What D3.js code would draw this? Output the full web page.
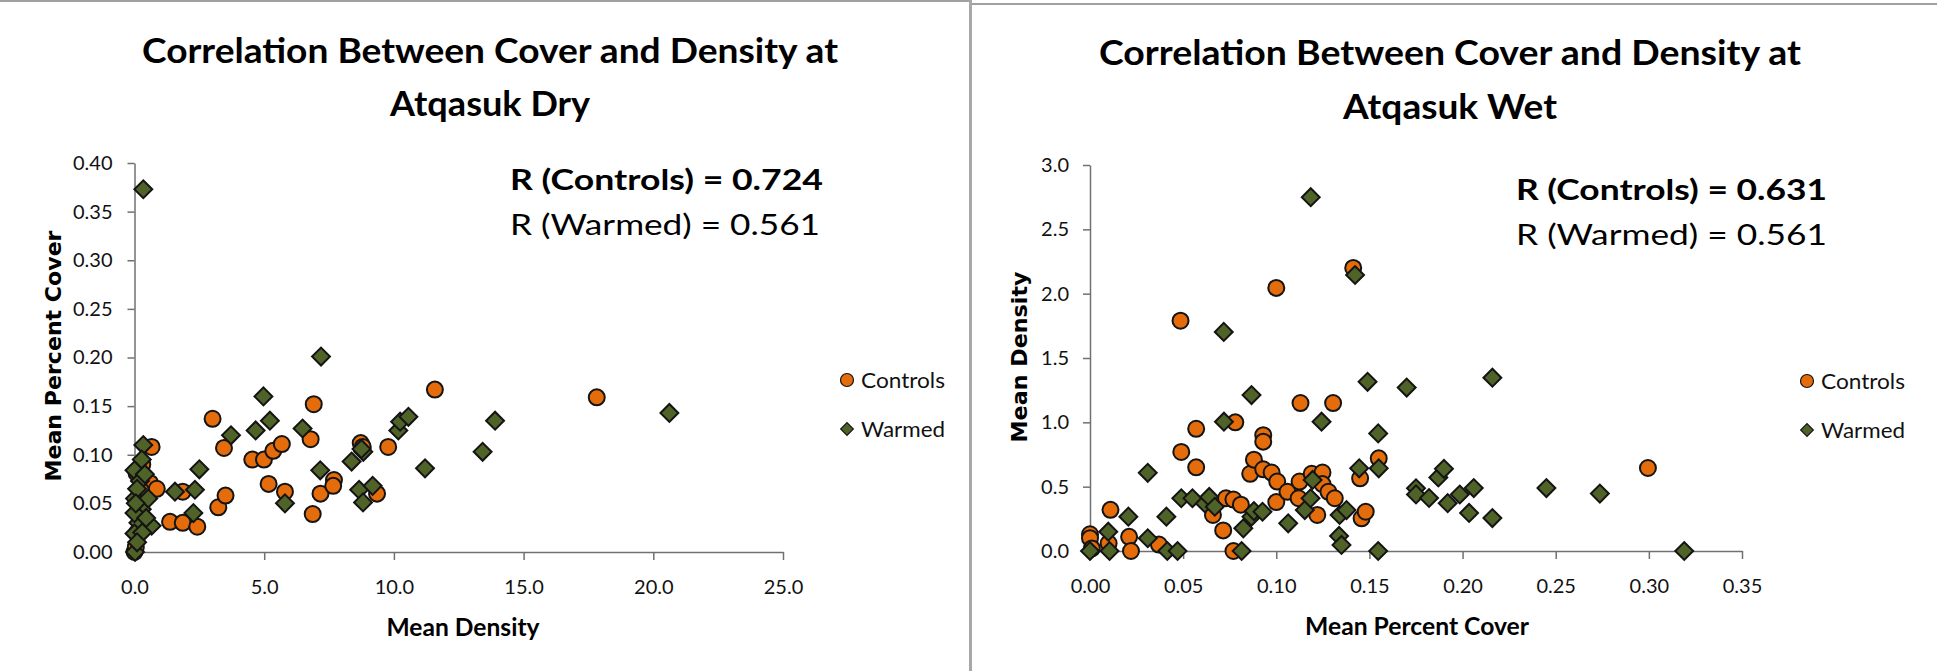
<!DOCTYPE html>
<html>
<head>
<meta charset="utf-8">
<script src="https://cdnjs.cloudflare.com/ajax/libs/d3/7.8.5/d3.min.js"></script>
<style>
	body { margin: 0; background: #fff; }
	svg { display: block; }
	.tick text { font-family: Lato, 'Open Sans', sans-serif; font-size: 20px; fill: #111; }
</style>
</head>
<body>
<svg id="chart" width="1937" height="671"></svg>
<script>
// Atqasuk Dry : x = mean density, y = mean percent cover
var dryControls = [
	[ 0.0, 0.0 ], [ 0.05, 0.005 ], [ 0.1, 0.02 ], [ 0.08, 0.081 ], [ 0.2, 0.05 ], [ 0.3, 0.09 ],
	[ 0.66, 0.108 ], [ 0.6, 0.071 ], [ 0.86, 0.065 ], [ 0.25, 0.063 ], [ 1.37, 0.031 ], [ 1.86, 0.030 ],
	[ 1.86, 0.062 ], [ 2.42, 0.026 ], [ 3.01, 0.137 ], [ 3.45, 0.107 ], [ 3.23, 0.046 ], [ 3.51, 0.058 ],
	[ 4.54, 0.095 ], [ 4.99, 0.095 ], [ 5.35, 0.104 ], [ 5.68, 0.111 ], [ 5.17, 0.070 ], [ 5.80, 0.062 ],
	[ 6.91, 0.152 ], [ 6.79, 0.116 ], [ 6.87, 0.039 ], [ 7.17, 0.060 ], [ 7.69, 0.074 ], [ 7.66, 0.068 ],
	[ 8.72, 0.112 ], [ 8.80, 0.108 ], [ 9.35, 0.060 ], [ 9.78, 0.108 ], [ 11.58, 0.167 ], [ 17.82, 0.159 ]
];
var dryWarmed = [
	[ 0.34, 0.373 ], [ 7.19, 0.201 ], [ 4.97, 0.160 ], [ 5.22, 0.135 ], [ 4.67, 0.125 ], [ 3.72, 0.120 ],
	[ 6.48, 0.127 ], [ 2.50, 0.085 ], [ 1.56, 0.062 ], [ 2.33, 0.064 ], [ 2.27, 0.040 ], [ 5.80, 0.050 ],
	[ 7.16, 0.084 ], [ 8.37, 0.093 ], [ 8.82, 0.103 ], [ 8.75, 0.106 ], [ 8.66, 0.064 ], [ 8.81, 0.051 ],
	[ 9.18, 0.068 ], [ 10.17, 0.125 ], [ 10.24, 0.134 ], [ 10.56, 0.139 ], [ 11.2, 0.086 ], [ 13.42, 0.103 ],
	[ 13.9, 0.135 ], [ 20.62, 0.143 ],
	[ 0.34, 0.110 ], [ 0.28, 0.095 ], [ 0.0, 0.084 ], [ 0.21, 0.073 ], [ 0.02, 0.055 ], [ 0.28, 0.044 ],
	[ 0.53, 0.055 ], [ 0.15, 0.030 ], [ 0.66, 0.027 ], [ 0.0, 0.019 ], [ 0.02, 0.0 ], [ 0.0, 0.04 ],
	[ 0.1, 0.065 ], [ 0.4, 0.08 ], [ 0.3, 0.02 ], [ 0.1, 0.01 ], [ 0.45, 0.035 ], [ 0.05, 0.05 ]
];

// Atqasuk Wet : x = mean percent cover, y = mean density
var wetControls = [
	[ 0.0, 0.13 ], [ 0.0, 0.10 ], [ 0.001, 0.02 ], [ 0.010, 0.06 ], [ 0.011, 0.32 ], [ 0.021, 0.11 ],
	[ 0.022, 0.0 ], [ 0.037, 0.05 ], [ 0.049, 0.77 ], [ 0.0486, 1.79 ], [ 0.057, 0.95 ], [ 0.057, 0.65 ],
	[ 0.066, 0.28 ], [ 0.0715, 0.16 ], [ 0.073, 0.41 ], [ 0.077, 0.40 ], [ 0.077, 0.0 ], [ 0.078, 1.00 ],
	[ 0.081, 0.36 ], [ 0.086, 0.60 ], [ 0.088, 0.71 ], [ 0.093, 0.90 ], [ 0.093, 0.85 ], [ 0.093, 0.635 ],
	[ 0.0975, 0.61 ], [ 0.100, 2.045 ], [ 0.1005, 0.54 ], [ 0.100, 0.38 ], [ 0.106, 0.46 ], [ 0.1125, 0.54 ],
	[ 0.112, 0.41 ], [ 0.113, 1.15 ], [ 0.119, 0.60 ], [ 0.1248, 0.61 ], [ 0.1248, 0.52 ], [ 0.122, 0.28 ],
	[ 0.128, 0.46 ], [ 0.1314, 0.41 ], [ 0.1305, 1.15 ], [ 0.1413, 2.20 ], [ 0.145, 0.565 ], [ 0.1458, 0.254 ],
	[ 0.148, 0.305 ], [ 0.155, 0.72 ], [ 0.2995, 0.645 ]
];
var wetWarmed = [
	[ 0, 0 ], [ 0.0105, 0 ], [ 0.0098, 0.15 ], [ 0.0206, 0.267 ], [ 0.031, 0.099 ], [ 0.031, 0.608 ],
	[ 0.041, 0.267 ], [ 0.0415, 0 ], [ 0.047, 0 ], [ 0.049, 0.41 ], [ 0.055, 0.41 ], [ 0.0617, 0.37 ],
	[ 0.064, 0.42 ], [ 0.067, 0.344 ], [ 0.0718, 1.703 ], [ 0.0719, 1.005 ], [ 0.0814, 0 ], [ 0.0823, 0.176 ],
	[ 0.0867, 1.212 ], [ 0.0867, 0.267 ], [ 0.088, 0.31 ], [ 0.0926, 0.305 ], [ 0.1064, 0.215 ], [ 0.1153, 0.318 ],
	[ 0.1184, 0.41 ], [ 0.1195, 0.552 ], [ 0.1185, 2.75 ], [ 0.1243, 1.005 ], [ 0.134, 0.28 ], [ 0.1377, 0.318 ],
	[ 0.1337, 0.117 ], [ 0.135, 0.047 ], [ 0.1423, 2.145 ], [ 0.1445, 0.643 ], [ 0.149, 1.315 ], [ 0.1547, 0.914 ],
	[ 0.155, 0.643 ], [ 0.1547, 0 ], [ 0.170, 1.27 ], [ 0.175, 0.487 ], [ 0.175, 0.44 ], [ 0.182, 0.412 ],
	[ 0.187, 0.572 ], [ 0.19, 0.639 ], [ 0.192, 0.372 ], [ 0.1985, 0.439 ], [ 0.2035, 0.296 ], [ 0.206, 0.489 ],
	[ 0.216, 1.347 ], [ 0.216, 0.256 ], [ 0.245, 0.489 ], [ 0.2737, 0.446 ], [ 0.319, 0 ]
];

var dryXTicks = [ 0, 5, 10, 15, 20, 25 ];
var dryYTicks = [ 0, 0.05, 0.10, 0.15, 0.20, 0.25, 0.30, 0.35, 0.40 ];
var wetXTicks = [ 0, 0.05, 0.10, 0.15, 0.20, 0.25, 0.30, 0.35 ];
var wetYTicks = [ 0, 0.5, 1.0, 1.5, 2.0, 2.5, 3.0 ];

var seriesNames = [ 'Controls', 'Warmed' ];
var seriesColors = [ '#E46C0A', '#4F6228' ];

var svg = d3.select( '#chart' );

// panel borders
svg.append( 'line' ).attr( 'x1', 0 ).attr( 'x2', 970 ).attr( 'y1', 1 ).attr( 'y2', 1 )
	.style( 'stroke', '#a0a0a0' ).style( 'stroke-width', 2 );
svg.append( 'line' ).attr( 'x1', 972 ).attr( 'x2', 1937 ).attr( 'y1', 4 ).attr( 'y2', 4 )
	.style( 'stroke', '#a0a0a0' ).style( 'stroke-width', 2 );
svg.append( 'line' ).attr( 'x1', 970.5 ).attr( 'x2', 970.5 ).attr( 'y1', 0 ).attr( 'y2', 671 )
	.style( 'stroke', '#a8a8a8' ).style( 'stroke-width', 3 );

var diamond = d3.symbol( d3.symbolSquare, 160 );
var legendDiamond = d3.symbol( d3.symbolSquare, 80 );

function drawPanel( p ) {
	var g = svg.append( 'g' );

	var x = d3.scaleLinear().domain( p.xDomain ).range( p.xRange );
	var y = d3.scaleLinear().domain( p.yDomain ).range( p.yRange );

	// titles
	p.title.forEach( function( line, i ) {
		g.append( 'text' )
			.attr( 'x', p.titleX ).attr( 'y', p.titleY[ i ] )
			.attr( 'text-anchor', 'middle' )
			.attr( 'textLength', p.titleLen[ i ] ).attr( 'lengthAdjust', 'spacingAndGlyphs' )
			.style( 'font-family', 'Lato, sans-serif' ).style( 'font-weight', 'bold' ).style( 'font-size', '34px' )
			.text( line );
	} );

	// axes
	var xAxis = g.append( 'g' )
		.attr( 'transform', 'translate(0,' + p.yRange[ 0 ] + ')' )
		.call( d3.axisBottom( x ).tickValues( p.xTicks ).tickFormat( d3.format( p.xFmt ) )
			.tickSize( 8 ).tickSizeOuter( 0 ).tickPadding( 20 ) );
	var yAxis = g.append( 'g' )
		.attr( 'transform', 'translate(' + p.xRange[ 0 ] + ',0)' )
		.call( d3.axisLeft( y ).tickValues( p.yTicks ).tickFormat( d3.format( p.yFmt ) )
			.tickSize( 7 ).tickSizeOuter( 0 ).tickPadding( p.yPad ) );
	g.selectAll( '.domain, .tick line' ).style( 'stroke', '#707070' ).style( 'stroke-width', 1.5 );

	// axis titles
	g.append( 'text' )
		.attr( 'x', p.xTitleX ).attr( 'y', p.xTitleY )
		.attr( 'text-anchor', 'middle' )
		.attr( 'textLength', p.xTitleLen ).attr( 'lengthAdjust', 'spacingAndGlyphs' )
		.style( 'font-family', 'Lato, sans-serif' ).style( 'font-weight', 'bold' ).style( 'font-size', '24px' )
		.text( p.xTitle );
	g.append( 'text' )
		.attr( 'transform', 'translate(' + p.yTitleX + ',' + p.yTitleY + ') rotate(-90)' )
		.attr( 'text-anchor', 'middle' )
		.attr( 'textLength', p.yTitleLen ).attr( 'lengthAdjust', 'spacingAndGlyphs' )
		.style( 'font-family', "'DejaVu Sans', sans-serif" ).style( 'font-weight', 'bold' ).style( 'font-size', '22px' )
		.text( p.yTitle );

	// points : controls first, warmed on top
	g.append( 'g' ).selectAll( 'circle' ).data( p.controls )
		.enter().append( 'circle' )
		.attr( 'cx', function( d ) { return x( d[ 0 ] ); } )
		.attr( 'cy', function( d ) { return y( d[ 1 ] ); } )
		.attr( 'r', 8 )
		.style( 'fill', seriesColors[ 0 ] ).style( 'stroke', '#141414' ).style( 'stroke-width', 2 );

	g.append( 'g' ).selectAll( 'path' ).data( p.warmed )
		.enter().append( 'path' )
		.attr( 'd', diamond )
		.attr( 'transform', function( d ) { return 'translate(' + x( d[ 0 ] ) + ',' + y( d[ 1 ] ) + ') rotate(45)'; } )
		.style( 'fill', seriesColors[ 1 ] ).style( 'stroke', '#141414' ).style( 'stroke-width', 2 );

	// correlation text
	p.rText.forEach( function( t, i ) {
		g.append( 'text' )
			.attr( 'x', p.rX ).attr( 'y', p.rY[ i ] )
			.attr( 'textLength', p.rLen[ i ] ).attr( 'lengthAdjust', 'spacingAndGlyphs' )
			.style( 'font-family', 'Lato, sans-serif' ).style( 'font-size', '29px' )
			.style( 'font-weight', i == 0 ? 'bold' : 'normal' )
			.text( t );
	} );

	// legend
	var lg = g.append( 'g' ).attr( 'transform', 'translate(' + p.legendX + ',' + p.legendY + ')' );
	lg.append( 'circle' ).attr( 'cx', 0 ).attr( 'cy', 0 ).attr( 'r', 6.5 )
		.style( 'fill', seriesColors[ 0 ] ).style( 'stroke', '#141414' ).style( 'stroke-width', 1.2 );
	lg.append( 'path' ).attr( 'd', legendDiamond ).attr( 'transform', 'translate(0,49) rotate(45)' )
		.style( 'fill', seriesColors[ 1 ] ).style( 'stroke', '#141414' ).style( 'stroke-width', 1.2 );
	seriesNames.forEach( function( name, i ) {
		lg.append( 'text' )
			.attr( 'x', 14 ).attr( 'y', 8 + i * 49 )
			.attr( 'textLength', 84 ).attr( 'lengthAdjust', 'spacingAndGlyphs' )
			.style( 'font-family', 'Lato, sans-serif' ).style( 'font-size', '21px' ).style( 'fill', '#111' )
			.text( name );
	} );
}

drawPanel( {
	title : [ 'Correlation Between Cover and Density at', 'Atqasuk Dry' ],
	titleX : 490, titleY : [ 63, 116 ], titleLen : [ 696, 200 ],
	xDomain : [ 0, 25 ], xRange : [ 134.5, 783 ],
	yDomain : [ 0, 0.40 ], yRange : [ 552, 163 ],
	xTicks : dryXTicks, yTicks : dryYTicks, xFmt : '.1f', yFmt : '.2f', yPad : 15,
	xTitle : 'Mean Density', xTitleX : 463, xTitleY : 636, xTitleLen : 153,
	yTitle : 'Mean Percent Cover', yTitleX : 61, yTitleY : 356, yTitleLen : 251,
	controls : dryControls, warmed : dryWarmed,
	rText : [ 'R (Controls) = 0.724', 'R (Warmed) = 0.561' ],
	rX : 510, rY : [ 190, 235 ], rLen : [ 313, 310 ],
	legendX : 847, legendY : 380
} );

drawPanel( {
	title : [ 'Correlation Between Cover and Density at', 'Atqasuk Wet' ],
	titleX : 1450, titleY : [ 65, 119 ], titleLen : [ 702, 214 ],
	xDomain : [ 0, 0.35 ], xRange : [ 1090, 1742 ],
	yDomain : [ 0, 3.0 ], yRange : [ 551, 165 ],
	xTicks : wetXTicks, yTicks : wetYTicks, xFmt : '.2f', yFmt : '.1f', yPad : 14,
	xTitle : 'Mean Percent Cover', xTitleX : 1417, xTitleY : 635, xTitleLen : 224,
	yTitle : 'Mean Density', yTitleX : 1027, yTitleY : 357, yTitleLen : 171,
	controls : wetControls, warmed : wetWarmed,
	rText : [ 'R (Controls) = 0.631', 'R (Warmed) = 0.561' ],
	rX : 1516, rY : [ 200, 245 ], rLen : [ 311, 311 ],
	legendX : 1807, legendY : 381
} );
</script>
</body>
</html>
